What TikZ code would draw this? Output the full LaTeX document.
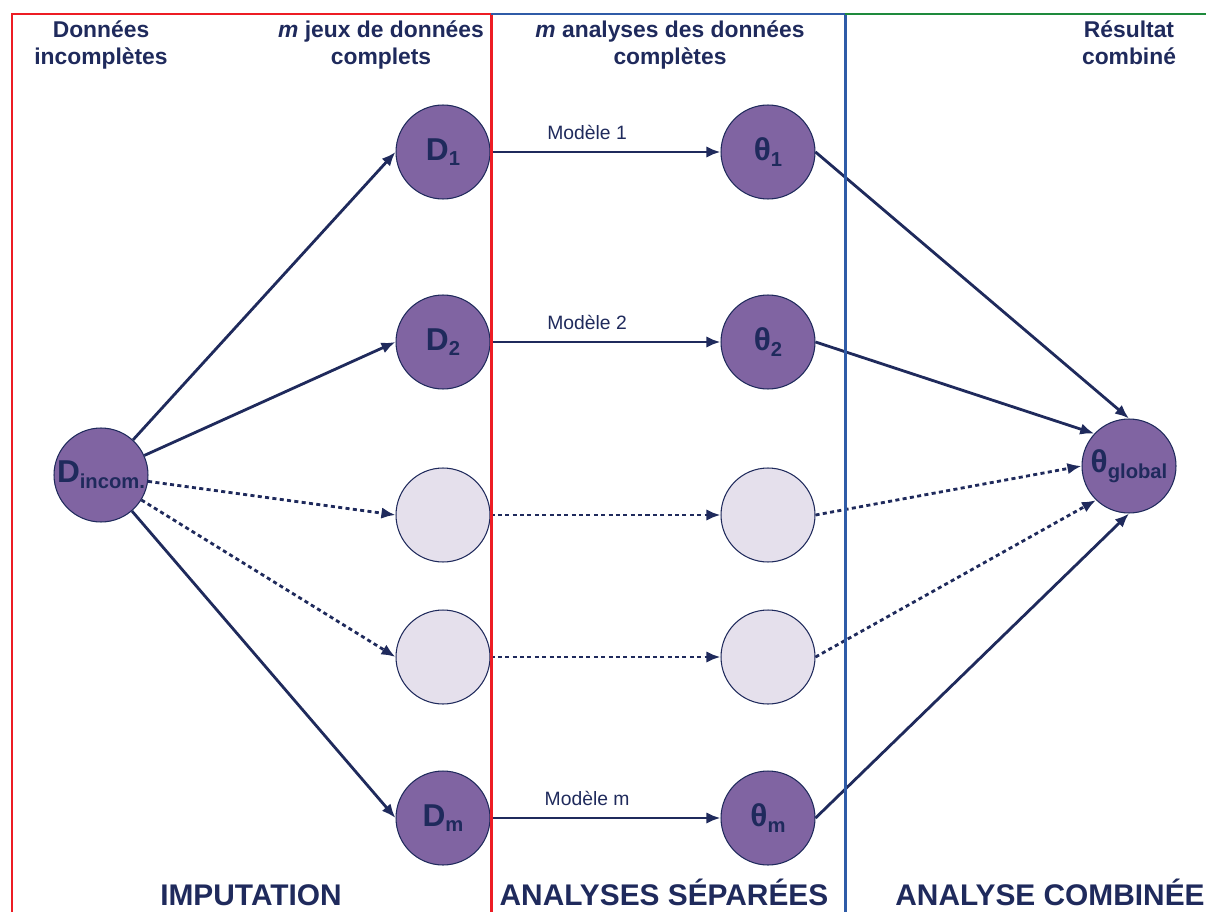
\documentclass[tikz,border=0pt]{standalone}
\usepackage{fontspec}
\setmainfont{Liberation Sans}
\usepackage{tikz}
\usetikzlibrary{shapes,arrows}
\usetikzlibrary{arrows.meta, positioning}
\definecolor{marine}{HTML}{1F2A5C}
\definecolor{violet}{HTML}{8064A2}
\definecolor{lilas}{HTML}{E5E0EC}
\definecolor{rouge}{HTML}{ED1C24}
\definecolor{bleu}{HTML}{2F5BA7}
\definecolor{vert}{HTML}{1E8A3C}
\newcommand{\indice}[1]{\raisebox{-0.6ex}{\fontsize{11.5}{11.5}\selectfont #1}}
\newcommand{\lettre}[1]{{\fontsize{18}{18}\selectfont #1}}

\begin{document}
\begin{tikzpicture}[x=0.02cm,y=-0.02cm]
		\tikzstyle{line} = [draw=marine, line width=1.6pt, -{Latex[length=8pt,width=6.5pt]}]
		\tikzstyle{pointille} = [line, dash pattern=on 2.3pt off 1.9pt]
		\tikzstyle{rond} = [circle, draw=marine, line width=0.6pt, fill=violet, text=marine, inner sep=0pt, minimum size=1.88cm, font=\bfseries]
		\tikzstyle{vide} = [rond, fill=lilas]
		\tikzstyle{titre} = [align=center, text=marine, font=\fontsize{13}{15.5}\selectfont\bfseries]
		\tikzstyle{etape} = [anchor=base, text=marine, font=\fontsize{17}{17}\selectfont\bfseries]
		\tikzstyle{modele} = [above=3pt, pos=0.42, text=marine, font=\fontsize{11}{11}\selectfont]
		\useasboundingbox (0,0) rectangle (1206,912);
		
		% Titres des colonnes
		\node[titre] (h1) at (101,45) {Données\\incomplètes};
		\node[titre] (h2) at (381,45) {\textit{m} jeux de données\\complets};
		\node[titre] (h3) at (670,45) {\textit{m} analyses des données\\complètes};
		\node[titre] (h4) at (1129,43) {Résultat\\combiné};
		
		% Noeuds
		\node[rond] (dinc) at (101,475) {\lettre{D}\indice{incom.}};
		\node[rond] (d1) at (443,152) {\lettre{D}\indice{1}};
		\node[rond] (d2) at (443,342) {\lettre{D}\indice{2}};
		\node[vide] (dv1) at (443,515) {};
		\node[vide] (dv2) at (443,657) {};
		\node[rond] (dm) at (443,818) {\lettre{D}\indice{m}};
		\node[rond] (t1) at (768,152) {\lettre{θ}\indice{1}};
		\node[rond] (t2) at (768,342) {\lettre{θ}\indice{2}};
		\node[vide] (tv1) at (768,515) {};
		\node[vide] (tv2) at (768,657) {};
		\node[rond] (tm) at (768,818) {\lettre{θ}\indice{m}};
		\node[rond] (tglob) at (1129,466) {\lettre{θ}\indice{global}};
		
		% Imputation
		\path [line] (dinc) -- (d1.west);
		\path [line] (dinc) -- (d2.west);
		\path [pointille] (dinc) -- (dv1.west);
		\path [pointille] (dinc) -- (dv2.west);
		\path [line] (dinc) -- (dm.west);
		
		% Analyses separees
		\path [line] (d1) -- node[modele] {Modèle 1} (t1);
		\path [line] (d2) -- node[modele] {Modèle 2} (t2);
		\path [pointille] (dv1) -- (tv1);
		\path [pointille] (dv2) -- (tv2);
		\path [line] (dm) -- node[modele] {Modèle m} (tm);
		
		% Combinaison
		\path [line] (t1.east) -- (tglob.90);
		\path [line] (t2.east) -- (tglob.137);
		\path [pointille] (tv1.east) -- (tglob.180);
		\path [pointille] (tv2.east) -- (tglob.226);
		\path [line] (tm.east) -- (tglob.270);
		
		% Cadres
		\draw[rouge, line width=1.7pt] (12,912) -- (12,14) -- (491,14) -- (491,912);
		\draw[bleu, line width=1.7pt] (491,14) -- (845,14) -- (845,912);
		\draw[vert, line width=1.7pt] (845,14) -- (1206,14);
		
		% Etapes
		\node[etape] (e1) at (251,905) {IMPUTATION};
		\node[etape] (e2) at (664,905) {ANALYSES SÉPARÉES};
		\node[etape] (e3) at (1050,905) {ANALYSE COMBINÉE};
	\end{tikzpicture}
\end{document}
